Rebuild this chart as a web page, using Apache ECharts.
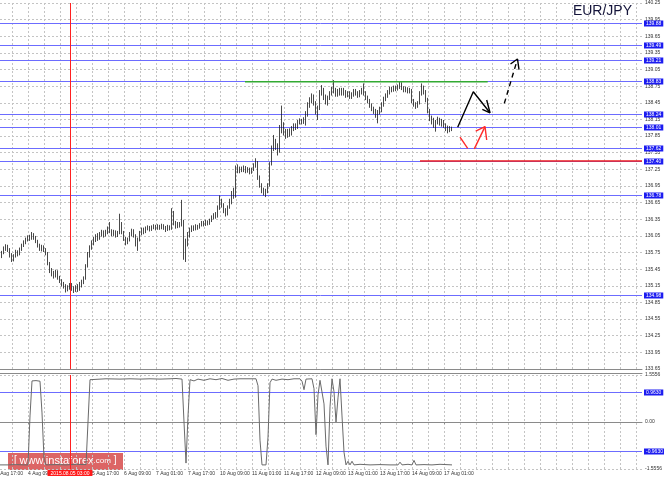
<!DOCTYPE html>
<html><head><meta charset="utf-8">
<script src="https://cdn.jsdelivr.net/npm/echarts@6/dist/echarts.min.js"></script>
<style>html,body{margin:0;padding:0;background:#fff}#c{width:664px;height:479px}</style>
</head><body><div id="c"></div>
<script>
// ---------- data ----------
const timeLabels = ['3 Aug 17:00','4 Aug 09:00','5 Aug 01:00','5 Aug 17:00','6 Aug 09:00','7 Aug 01:00','7 Aug 17:00','10 Aug 09:00','11 Aug 01:00','11 Aug 17:00','12 Aug 09:00','13 Aug 01:00','13 Aug 17:00','14 Aug 09:00','17 Aug 01:00'];
const yTicks = [133.65,133.95,134.25,134.55,134.85,135.15,135.45,135.75,136.05,136.35,136.65,136.95,137.25,137.55,137.85,138.15,138.45,138.75,139.05,139.35,139.65,139.95,140.25];
const indTicks = [-1.5556, 0, 1.5556];
const indTickText = ['-1.5556', '0.00', '1.5556'];
const levels = [139.88, 139.49, 139.21, 138.83, 138.24, 138.01, 137.62, 137.40, 136.78, 134.98];
const indLevels = [0.9630, -0.9630];
const crosshairText = '2015.08.05 03:00';
// hourly bars: [open, close, low, high]
const ohlc = [
[135.72,135.68,135.62,135.76],[135.68,135.74,135.65,135.78],[135.74,135.82,135.72,135.86],[135.82,135.86,135.78,135.90],
[135.86,135.80,135.76,135.89],[135.80,135.70,135.66,135.83],[135.70,135.62,135.58,135.74],[135.62,135.68,135.59,135.72],
[135.68,135.76,135.66,135.80],[135.76,135.72,135.68,135.79],[135.72,135.80,135.70,135.84],[135.80,135.88,135.78,135.91],
[135.88,135.94,135.85,135.97],[135.94,135.98,135.90,136.02],[135.98,136.03,135.95,136.06],[136.03,136.00,135.96,136.07],
[136.00,136.07,135.98,136.12],[136.07,136.02,135.98,136.10],[136.02,135.95,135.92,136.05],[135.95,135.88,135.84,135.98],
[135.88,135.82,135.78,135.91],[135.82,135.86,135.77,135.89],[135.86,135.80,135.76,135.88],[135.80,135.74,135.70,135.83],
[135.74,135.55,135.52,135.76],[135.55,135.42,135.38,135.58],[135.42,135.38,135.32,135.47],[135.38,135.34,135.28,135.42],
[135.34,135.40,135.30,135.44],[135.40,135.30,135.26,135.43],[135.30,135.24,135.20,135.33],[135.24,135.18,135.14,135.27],
[135.18,135.15,135.10,135.22],[135.15,135.08,135.03,135.18],[135.08,135.12,135.05,135.16],[135.12,135.16,135.08,135.20],
[135.16,135.10,135.06,135.20],[135.10,135.06,135.02,135.14],[135.06,135.12,135.04,135.16],[135.12,135.08,135.04,135.18],
[135.08,135.16,135.06,135.22],[135.16,135.22,135.12,135.26],[135.22,135.28,135.18,135.32],[135.28,135.50,135.26,135.54],
[135.50,135.70,135.48,135.76],[135.70,135.84,135.66,135.88],[135.84,135.92,135.80,135.97],[135.92,135.98,135.88,136.03],
[135.98,136.04,135.94,136.08],[136.04,136.00,135.96,136.10],[136.00,136.08,135.98,136.12],[136.08,136.12,136.04,136.16],
[136.12,136.06,136.02,136.15],[136.06,136.12,136.04,136.16],[136.12,136.18,136.08,136.22],[136.18,136.14,136.10,136.30],
[136.14,136.08,136.04,136.17],[136.08,136.12,136.05,136.16],[136.12,136.06,136.02,136.15],[136.06,136.10,136.03,136.14],
[136.10,136.25,136.08,136.45],[136.25,136.12,136.08,136.30],[136.12,136.00,135.96,136.14],[136.00,135.94,135.88,136.03],
[135.94,135.98,135.90,136.02],[135.98,136.08,135.95,136.12],[136.08,136.14,136.04,136.18],[136.14,136.06,136.02,136.17],
[136.06,135.90,135.86,136.08],[135.90,135.98,135.78,136.02],[135.98,136.10,135.95,136.14],[136.10,136.16,136.06,136.20],
[136.16,136.12,136.08,136.20],[136.12,136.18,136.10,136.22],[136.18,136.20,136.15,136.24],[136.20,136.16,136.13,136.23],
[136.16,136.20,136.14,136.24],[136.20,136.22,136.17,136.26],[136.22,136.18,136.15,136.25],[136.18,136.22,136.16,136.26],
[136.22,136.19,136.16,136.25],[136.19,136.23,136.17,136.27],[136.23,136.20,136.16,136.26],[136.20,136.16,136.12,136.23],
[136.16,136.22,136.14,136.25],[136.22,136.18,136.15,136.24],[136.18,136.45,136.16,136.55],[136.45,136.28,136.24,136.50],
[136.28,136.22,136.18,136.32],[136.22,136.26,136.19,136.30],[136.26,136.24,136.20,136.30],[136.24,136.30,136.22,136.70],
[136.30,135.80,135.62,136.34],[135.80,135.90,135.58,136.00],[135.90,136.05,135.86,136.12],[136.05,136.16,136.02,136.20],
[136.16,136.20,136.12,136.24],[136.20,136.18,136.14,136.24],[136.18,136.22,136.15,136.26],[136.22,136.20,136.16,136.25],
[136.20,136.24,136.18,136.28],[136.24,136.28,136.22,136.32],[136.28,136.25,136.22,136.32],[136.25,136.30,136.23,136.34],
[136.30,136.27,136.24,136.33],[136.27,136.32,136.25,136.36],[136.32,136.38,136.30,136.42],[136.38,136.42,136.35,136.46],
[136.42,136.40,136.36,136.48],[136.40,136.55,136.38,136.60],[136.55,136.68,136.52,136.78],[136.68,136.60,136.56,136.72],
[136.60,136.50,136.46,136.64],[136.50,136.44,136.40,136.55],[136.44,136.56,136.42,136.60],[136.56,136.66,136.54,136.72],
[136.66,136.80,136.62,136.86],[136.80,136.78,136.72,136.92],[136.78,137.28,136.74,137.32],[137.28,137.22,137.18,137.34],
[137.22,137.26,137.18,137.30],[137.26,137.24,137.20,137.30],[137.24,137.28,137.20,137.32],[137.28,137.22,137.18,137.31],
[137.22,137.26,137.19,137.29],[137.26,137.20,137.16,137.28],[137.20,137.24,137.17,137.28],[137.24,137.32,137.22,137.36],
[137.32,137.36,137.28,137.45],[137.36,137.10,137.06,137.40],[137.10,136.96,136.92,137.14],[136.96,136.88,136.82,137.00],
[136.88,136.84,136.78,136.92],[136.84,136.86,136.75,136.90],[136.86,136.96,136.82,137.00],[136.96,137.35,136.94,137.38],
[137.35,137.62,137.32,137.68],[137.62,137.75,137.58,137.87],[137.75,137.66,137.60,137.80],[137.66,137.58,137.50,137.72],
[137.58,137.98,137.55,138.05],[137.98,138.05,137.90,138.40],[138.05,137.92,137.86,138.10],[137.92,137.86,137.80,137.98],
[137.86,137.94,137.82,137.98],[137.94,137.90,137.84,137.99],[137.90,137.98,137.86,138.03],[137.98,138.04,137.94,138.08],
[138.04,138.00,137.96,138.08],[138.00,138.10,137.98,138.14],[138.10,138.13,138.06,138.17],[138.13,138.10,138.06,138.16],
[138.10,138.15,138.07,138.19],[138.15,138.22,138.04,138.30],[138.22,138.40,138.20,138.46],[138.40,138.48,138.36,138.55],
[138.48,138.56,138.44,138.62],[138.56,138.44,138.40,138.60],[138.44,138.28,138.24,138.48],[138.28,138.36,138.14,138.40],
[138.36,138.62,138.32,138.68],[138.62,138.68,138.58,138.77],[138.68,138.56,138.50,138.72],[138.56,138.48,138.42,138.60],
[138.48,138.54,138.40,138.58],[138.54,138.62,138.50,138.66],[138.62,138.70,138.58,138.74],[138.70,138.66,138.62,138.86],
[138.66,138.60,138.56,138.72],[138.60,138.66,138.56,138.70],[138.66,138.62,138.58,138.72],[138.62,138.68,138.58,138.72],
[138.68,138.64,138.58,138.72],[138.64,138.58,138.54,138.68],[138.58,138.62,138.55,138.66],[138.62,138.56,138.52,138.66],
[138.56,138.60,138.52,138.64],[138.60,138.66,138.56,138.70],[138.66,138.62,138.58,138.70],[138.62,138.58,138.54,138.66],
[138.58,138.64,138.55,138.68],[138.64,138.68,138.60,138.72],[138.68,138.62,138.58,138.80],[138.62,138.54,138.50,138.66],
[138.54,138.48,138.44,138.58],[138.48,138.40,138.36,138.52],[138.40,138.34,138.30,138.44],[138.34,138.30,138.25,138.38],
[138.30,138.22,138.18,138.34],[138.22,138.28,138.08,138.32],[138.28,138.32,138.24,138.38],[138.32,138.42,138.28,138.46],
[138.42,138.52,138.38,138.56],[138.52,138.58,138.48,138.62],[138.58,138.64,138.54,138.68],[138.64,138.70,138.60,138.74],
[138.70,138.68,138.64,138.74],[138.68,138.72,138.65,138.76],[138.72,138.70,138.66,138.76],[138.70,138.74,138.67,138.78],
[138.74,138.78,138.70,138.83],[138.78,138.72,138.68,138.82],[138.72,138.68,138.64,138.75],[138.68,138.70,138.64,138.74],
[138.70,138.66,138.62,138.73],[138.66,138.68,138.62,138.72],[138.68,138.48,138.44,138.70],[138.48,138.42,138.38,138.52],
[138.42,138.38,138.34,138.46],[138.38,138.44,138.36,138.48],[138.44,138.62,138.42,138.66],[138.62,138.72,138.58,138.80],
[138.72,138.64,138.60,138.76],[138.64,138.50,138.46,138.68],[138.50,138.30,138.26,138.54],[138.30,138.16,138.12,138.34],
[138.16,138.12,138.06,138.22],[138.12,138.04,138.00,138.18],[138.04,138.10,137.93,138.14],[138.10,138.14,138.06,138.20],
[138.14,138.08,138.04,138.18],[138.08,138.12,138.02,138.16],[138.12,138.04,138.00,138.14],[138.04,137.98,137.94,138.08],
[138.02,137.96,137.90,138.04],[137.96,138.00,137.92,138.03],[138.00,137.98,137.94,138.02]
];
// indicator polyline vertices: [bar slot, value]
const indicator = [
[2,-1.42],[6,-1.42],[10,-1.41],[14,-1.42],[16,-1.42],[17,0.2],[18,1.36],[19,1.42],[20,1.37],[21,1.40],[22,1.35],[23,0.3],[24,-1.2],[25,-1.42],
[30,-1.41],[35,-1.42],[40,-1.40],[45,-1.41],[46,0.0],[47,1.40],[48,1.44],[55,1.43],[62,1.42],[67,1.43],[72,1.42],[77,1.43],[82,1.42],
[87,1.43],[90,1.44],[93,1.42],[94,0.0],[95,-1.36],[96,0.2],[97,1.40],[99,1.36],[101,1.42],[104,1.38],[107,1.43],[110,1.40],[113,1.44],
[116,1.38],[119,1.42],[122,1.43],[126,1.43],[130,1.43],[131,1.2],[132,-0.6],[133,-1.42],[135,-1.42],[136,-0.5],[137,1.30],[138,1.42],
[140,1.38],[143,1.42],[146,1.40],[149,1.43],[152,1.43],[153,1.35],[154,1.07],[155,1.42],[158,1.43],[159,1.1],[160,-0.42],[161,0.9],
[162,1.38],[163,1.35],[164,0.6],[165,-0.8],[166,-1.42],[167,0.5],[168,1.43],[169,1.0],[170,0.0],[171,0.8],[172,1.43],[173,0.2],
[174,-1.0],[175,-1.42],[176,-1.30],[177,-1.42],[178,-1.30],[179,-1.42],[182,-1.40],[187,-1.42],[192,-1.41],[197,-1.42],[201,-1.42],
[202,-1.33],[203,-1.42],[206,-1.40],[208,-1.42],[209,-1.27],[210,-1.42],[214,-1.41],[218,-1.42],[222,-1.40],[228,-1.42]
];
const greenLevel = [[124.5,138.83],[245.85,138.83]];
const redLevel = [[212,137.40],[323,137.40]];
const arrowSolid = [[230.85,138.01],[238.65,138.65],[247,138.27]];
const arrowSolidHead = [[245.35,138.50],[247,138.27],[243.15,138.33]];
const arrowRedA = [[232,137.83],[235.85,137.63]];
const arrowRedB = [[239.15,137.62],[244.5,138.02]];
const arrowRedHead = [[239.85,137.94],[244.5,138.02],[245.35,137.78]];
const arrowDashed = [[254.15,138.44],[260.75,139.24]];
const arrowDashedHead = [[257.25,139.15],[260.75,139.24],[261.5,139.05]];

// ---------- layout ----------
const SLOTS = 324, FIRST = 2, LABEL_EVERY = 16, CROSS = 37;
const cats = Array.from({length: SLOTS}, (_, i) => String(i));
const candleData = cats.map((_, i) => (i >= FIRST && i - FIRST < ohlc.length) ? ohlc[i - FIRST] : '-');
const FONT = 'Liberation Sans';
const gridLine = {show: true, lineStyle: {color: '#c4c4c4', type: [2, 2], width: 1}};
const labelIdx = (i) => i % LABEL_EVERY === 0 && i / LABEL_EVERY < timeLabels.length;

// horizontal level line (pixel-snapped) + blue price box at the right edge
function levelRender(digits) {
  return function (params, api) {
    const v = api.value(0);
    const p = api.coord([0, v]);
    const cs = params.coordSys;
    const y = Math.floor(p[1]) + 0.5;
    return {type: 'group', children: [
      {type: 'line', shape: {x1: cs.x, y1: y, x2: cs.x + cs.width, y2: y}, style: {stroke: '#6c6cff', lineWidth: 1}},
      {type: 'text', x: cs.x + cs.width + 2, y: y, style: {text: v.toFixed(digits), fill: '#fff', backgroundColor: '#1c1cf0',
        padding: [1, 2, 0, 2], font: '5px "Liberation Sans"', verticalAlign: 'middle', align: 'left'}}
    ]};
  };
}

function seg(data, color, type, z) {
  return {type: 'line', xAxisIndex: 2, yAxisIndex: 0, data: data, symbol: 'none', silent: true,
    lineStyle: {color: color, width: 1.4, type: type || 'solid'}, z: z || 5};
}

const chart = echarts.init(document.getElementById('c'), null, {renderer: 'canvas'});
chart.setOption({
  animation: false,
  backgroundColor: '#fff',
  textStyle: {fontFamily: FONT},
  grid: [
    {left: -4, top: 3, width: 646, height: 366, outerBoundsMode: 'none', containLabel: false},
    {left: -4, top: 375, width: 646, height: 94, outerBoundsMode: 'none', containLabel: false}
  ],
  xAxis: [
    {type: 'category', gridIndex: 0, data: cats, boundaryGap: false,
      axisLine: {show: true, lineStyle: {color: '#8a8a8a'}}, axisTick: {show: false}, axisLabel: {show: false},
      splitLine: Object.assign({interval: 7}, gridLine)},
    {type: 'category', gridIndex: 1, data: cats, boundaryGap: false,
      axisLine: {show: true, lineStyle: {color: '#8a8a8a'}},
      axisTick: {show: true, interval: (i) => labelIdx(i), length: 2, lineStyle: {color: '#8a8a8a'}},
      axisLabel: {interval: (i) => labelIdx(i), formatter: (v, i) => timeLabels[i / LABEL_EVERY] || '',
        align: 'left', fontSize: 5, color: '#333', margin: 2, fontFamily: FONT},
      splitLine: Object.assign({interval: 7}, gridLine)},
    {type: 'value', gridIndex: 0, min: 0, max: SLOTS - 1, show: false},
    {type: 'value', gridIndex: 1, position: 'top', offset: 2, min: 0, max: 1,
      axisLine: {show: true, lineStyle: {color: '#8a8a8a'}}, axisTick: {show: false}, axisLabel: {show: false}, splitLine: {show: false}}
  ],
  yAxis: [
    {type: 'value', gridIndex: 0, position: 'right', min: 133.65, max: 140.25,
      axisLine: {show: true, lineStyle: {color: '#8a8a8a'}},
      axisTick: {show: true, customValues: yTicks, length: 2, lineStyle: {color: '#8a8a8a'}},
      axisLabel: {customValues: yTicks, formatter: (v) => v.toFixed(2), fontSize: 5, color: '#333', margin: 3, fontFamily: FONT},
      splitLine: gridLine},
    {type: 'value', gridIndex: 1, position: 'right', min: -1.5556, max: 1.5556,
      axisLine: {show: true, lineStyle: {color: '#8a8a8a'}},
      axisTick: {show: true, customValues: indTicks, length: 2, lineStyle: {color: '#8a8a8a'}},
      axisLabel: {customValues: indTicks, formatter: (v) => indTickText[indTicks.indexOf(v)] || v.toFixed(2), fontSize: 5, color: '#333', margin: 3, fontFamily: FONT},
      splitLine: gridLine}
  ],
  series: [
    {type: 'candlestick', xAxisIndex: 0, yAxisIndex: 0, data: candleData, barWidth: 1, z: 4,
      itemStyle: {color: '#ffffff', color0: '#1a1a1a', borderColor: '#1a1a1a', borderColor0: '#1a1a1a', borderWidth: 0.8}},
    {type: 'custom', xAxisIndex: 2, yAxisIndex: 0, data: levels.map(v => [v]), clip: false, silent: true, z: 3,
      encode: {y: 0}, renderItem: levelRender(2)},
    {type: 'custom', xAxisIndex: 1, yAxisIndex: 1, data: indLevels.map(v => [v]), clip: false, silent: true, z: 3,
      encode: {y: 0}, renderItem: levelRender(4)},
    {type: 'line', xAxisIndex: 2, yAxisIndex: 0, data: [], symbol: 'none', silent: true, z: 3,
      markLine: {silent: true, symbol: ['none', 'none'], animation: false,
        data: [{xAxis: CROSS, lineStyle: {color: '#ff2020', width: 1, type: 'solid'}, label: {show: false}}]}},
    seg(greenLevel, '#33aa33'),
    seg(redLevel, '#ee1c1c'),
    seg(arrowSolid, '#000'),
    seg(arrowSolidHead, '#000'),
    seg(arrowRedA, '#ff2a2a'),
    seg(arrowRedB, '#ff2a2a'),
    seg(arrowRedHead, '#ff2a2a'),
    seg(arrowDashed, '#000', [5, 4]),
    seg(arrowDashedHead, '#000'),
    {type: 'line', xAxisIndex: 1, yAxisIndex: 1, data: indicator, symbol: 'none', silent: true,
      lineStyle: {color: '#6a6a6a', width: 1},
      markLine: {silent: true, symbol: ['none', 'none'], animation: false,
        data: [{xAxis: String(CROSS), lineStyle: {color: '#ff2020', width: 1, type: 'solid'},
            label: {show: true, position: 'start', distance: 1, formatter: crosshairText, backgroundColor: '#ff1a1a', color: '#fff', fontSize: 5, padding: [1, 3, 0, 3], fontFamily: FONT}}]}}
  ],
  graphic: [
    {type: 'text', right: 32, top: 4, z: 10,
      style: {text: 'EUR/JPY', font: '14px "Liberation Sans"', fill: '#14143a'}},
    {type: 'group', left: 8, top: 453, z: 10, children: [
      {type: 'rect', shape: {x: 0, y: 0, width: 115, height: 17}, style: {fill: 'rgba(214,74,74,0.85)'}},
      {type: 'text', x: 6, y: 2, style: {text: '{b|[ }{m|www.instaforex}{s|.com}{b| ]}', fill: '#fff',
        rich: {b: {fontSize: 10, fill: '#fff', fontFamily: FONT}, m: {fontSize: 11, fill: '#fff', fontFamily: FONT}, s: {fontSize: 8, fill: '#fff', fontFamily: FONT}}}}
    ]}
  ]
});
</script>
</body></html>
